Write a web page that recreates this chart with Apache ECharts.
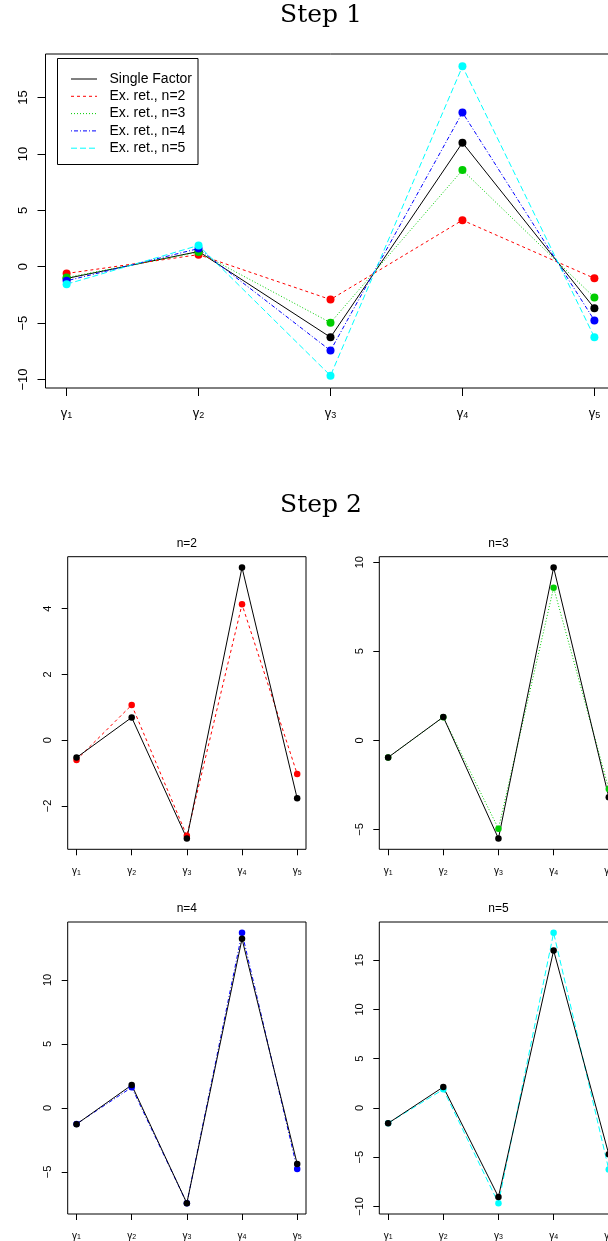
<!DOCTYPE html>
<html>
<head>
<meta charset="utf-8">
<script src="https://cdn.jsdelivr.net/npm/echarts@6/dist/echarts.min.js"></script>
<style>
html,body{margin:0;padding:0;background:#fff;overflow:hidden;}
#chart{width:630px;height:1241px;}
</style>
</head>
<body>
<div id="chart"></div>
<script>
// ---------------- data ----------------
const categories = ['γ1', 'γ2', 'γ3', 'γ4', 'γ5'];
const legendLabels = ['Single Factor', 'Ex. ret., n=2', 'Ex. ret., n=3', 'Ex. ret., n=4', 'Ex. ret., n=5'];
const panelTitles = ['n=2', 'n=3', 'n=4', 'n=5'];

// Step 1
const singleFactor = [-1.04, 1.35, -6.26, 11.0, -3.68];
const exRet2 = [-0.60, 1.07, -2.91, 4.13, -1.03];
const exRet3 = [-0.96, 1.30, -4.96, 8.57, -2.73];
const exRet4 = [-1.25, 1.61, -7.44, 13.68, -4.76];
const exRet5 = [-1.55, 1.89, -9.66, 17.77, -6.25];

// Step 2 (single factor re-estimated per n)
const singleFactorN2 = [-0.53, 0.69, -2.99, 5.25, -1.77];
const singleFactorN3 = [-0.96, 1.31, -5.51, 9.70, -3.19];
const singleFactorN4 = [-1.27, 1.79, -7.44, 13.21, -4.37];
const singleFactorN5 = [-1.55, 2.13, -9.02, 15.98, -4.70];

// tick labels
const yTicksStep1 = [-10, -5, 0, 5, 10, 15];
const yTicksN2 = [-2, 0, 2, 4];
const yTicksN3 = [-5, 0, 5, 10];
const yTicksN4 = [-5, 0, 5, 10];
const yTicksN5 = [-10, -5, 0, 5, 10, 15];

// ---------------- styling ----------------
const FONT = 'Liberation Sans, Arial, Helvetica, sans-serif';
const SERIF = 'DejaVu Serif, Liberation Serif, serif';
const colors = ['#000000', '#FF0000', '#00CD00', '#0000FF', '#00FFFF'];
const dashes = ['solid', [3, 3], [1, 2], [1, 2, 4, 2], [6, 3]];

const xPos = categories.map((c, i) => i + 1);

function rRange(arrs) {
  const all = [].concat(...arrs);
  const mn = Math.min(...all), mx = Math.max(...all);
  const pad = 0.04 * (mx - mn);
  return [mn - pad, mx + pad];
}
function xRange() {
  const pad = 0.04 * (xPos[xPos.length - 1] - xPos[0]);
  return [xPos[0] - pad, xPos[xPos.length - 1] + pad];
}
function fmtNum(v) { return String(v).replace('-', '\u2212'); }
function toPairs(arr) { return arr.map((v, i) => [xPos[i], v]); }

const grids = [
  { left: 45.5, top: 54, width: 570, height: 334 },
  { left: 67.7, top: 556.7, width: 238.3, height: 292.6 },
  { left: 379.3, top: 556.7, width: 238.3, height: 292.6 },
  { left: 67.7, top: 922, width: 238.3, height: 292.3 },
  { left: 379.3, top: 922, width: 238.3, height: 292.3 }
];

const yTickSets = [yTicksStep1, yTicksN2, yTicksN3, yTicksN4, yTicksN5];
const exRets = [exRet2, exRet3, exRet4, exRet5];
const sfPanels = [singleFactorN2, singleFactorN3, singleFactorN4, singleFactorN5];
const yRanges = [
  rRange([singleFactor, exRet2, exRet3, exRet4, exRet5]),
  rRange([singleFactorN2, exRet2]),
  rRange([singleFactorN3, exRet3]),
  rRange([singleFactorN4, exRet4]),
  rRange([singleFactorN5, exRet5])
];

const xr = xRange();
const xAxes = grids.map((g, i) => {
  const big = i === 0;
  const fs = big ? 13 : 10;
  return {
    type: 'value', gridIndex: i, min: xr[0], max: xr[1], position: 'bottom',
    axisLine: { show: false, onZero: false },
    splitLine: { show: false },
    axisTick: { show: true, inside: false, length: big ? 8 : 6, customValues: xPos, lineStyle: { color: '#000', width: 1 } },
    axisLabel: {
      show: true, customValues: xPos, margin: big ? 17 : 15,
      formatter: v => { const c = categories[Math.round(v) - 1] || ''; return '{g|' + c.charAt(0) + '}{s|' + c.slice(1) + '}'; },
      rich: {
        g: { fontFamily: FONT, fontSize: fs, color: '#000', verticalAlign: 'bottom', lineHeight: fs + 2 },
        s: { fontFamily: FONT, fontSize: Math.round(fs * 0.7), color: '#000', verticalAlign: 'bottom', lineHeight: fs - 1 }
      }
    }
  };
});
const yAxes = grids.map((g, i) => {
  const big = i === 0;
  return {
    type: 'value', gridIndex: i, min: yRanges[i][0], max: yRanges[i][1], position: 'left',
    axisLine: { show: false, onZero: false },
    splitLine: { show: false },
    axisTick: { show: true, inside: false, length: big ? 8 : 6, customValues: yTickSets[i], lineStyle: { color: '#000', width: 1 } },
    axisLabel: {
      show: true, customValues: yTickSets[i], rotate: 90, margin: big ? 16 : 14,
      fontFamily: FONT, fontSize: big ? 13 : 11, color: '#000',
      formatter: v => fmtNum(v)
    }
  };
});

const series = [];
// Step 1: all five series
[singleFactor, exRet2, exRet3, exRet4, exRet5].forEach((arr, k) => {
  series.push({
    type: 'line', name: legendLabels[k], xAxisIndex: 0, yAxisIndex: 0,
    data: toPairs(arr), symbol: 'circle', symbolSize: 8,
    itemStyle: { color: colors[k], borderWidth: 0 },
    lineStyle: { color: colors[k], width: 1, type: dashes[k] },
    animation: false, silent: true
  });
});
// Step 2 panels: colored ex. ret. first, then single factor on top
exRets.forEach((arr, p) => {
  const k = p + 1;
  series.push({
    type: 'line', name: legendLabels[k] + ' panel', xAxisIndex: p + 1, yAxisIndex: p + 1,
    data: toPairs(arr), symbol: 'circle', symbolSize: 6.5,
    itemStyle: { color: colors[k], borderWidth: 0 },
    lineStyle: { color: colors[k], width: 1, type: dashes[k] },
    animation: false, silent: true
  });
  series.push({
    type: 'line', name: 'Single Factor ' + panelTitles[p], xAxisIndex: p + 1, yAxisIndex: p + 1,
    data: toPairs(sfPanels[p]), symbol: 'circle', symbolSize: 6.5,
    itemStyle: { color: colors[0], borderWidth: 0 },
    lineStyle: { color: colors[0], width: 1, type: 'solid' },
    animation: false, silent: true
  });
});

// graphic: titles + legend
const graphic = [];
graphic.push({ type: 'text', x: 321, y: 15, style: { text: 'Step 1', font: '25px ' + SERIF, fill: '#000', align: 'center', verticalAlign: 'middle' } });
graphic.push({ type: 'text', x: 321, y: 505, style: { text: 'Step 2', font: '25px ' + SERIF, fill: '#000', align: 'center', verticalAlign: 'middle' } });
panelTitles.forEach((t, p) => {
  const g = grids[p + 1];
  graphic.push({ type: 'text', x: g.left + g.width / 2, y: g.top - 13, style: { text: t, font: '12px ' + FONT, fill: '#000', align: 'center', verticalAlign: 'middle' } });
});
// legend box
const lg = { x: 57.5, y: 58.5, w: 140.5, h: 106 };
graphic.push({ type: 'rect', shape: { x: lg.x, y: lg.y, width: lg.w, height: lg.h }, style: { fill: '#fff', stroke: '#000', lineWidth: 1 }, z: 100 });
legendLabels.forEach((t, k) => {
  const yy = lg.y + 20.5 + k * 17.3;
  graphic.push({ type: 'line', shape: { x1: lg.x + 13.5, y1: yy, x2: lg.x + 39.5, y2: yy }, style: { stroke: colors[k], lineWidth: 1, lineDash: k === 0 ? null : dashes[k] }, z: 101 });
  graphic.push({ type: 'text', x: lg.x + 52, y: yy, style: { text: t, font: '14px ' + FONT, fill: '#000', align: 'left', verticalAlign: 'middle' }, z: 101 });
});

const option = {
  backgroundColor: '#fff',
  animation: false,
  grid: grids.map(g => Object.assign({ show: true, borderColor: '#000', borderWidth: 1, backgroundColor: 'transparent', containLabel: false }, g)),
  xAxis: xAxes,
  yAxis: yAxes,
  series: series,
  graphic: graphic
};

const chart = echarts.init(document.getElementById('chart'), null, { renderer: 'canvas' });
chart.setOption(option);
</script>
</body>
</html>
